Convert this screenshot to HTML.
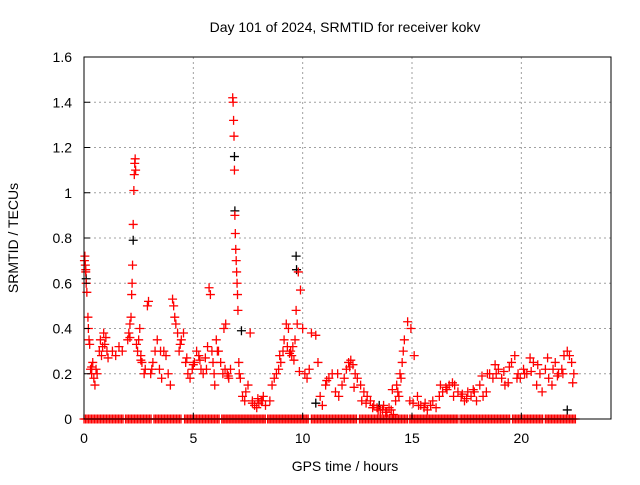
<!DOCTYPE html>
<html><head><meta charset="utf-8"><style>
body{margin:0;background:#fff;}
svg text{font-family:"Liberation Sans",sans-serif;font-size:14px;fill:#000;}
</style></head><body>
<svg id="chart" width="640" height="480" xmlns="http://www.w3.org/2000/svg">
<rect width="640" height="480" fill="#fff"/>
<g id="grid"></g>
<g id="marks"></g>
<rect x="84" y="57" width="527" height="362" fill="none" stroke="#000" stroke-width="1"/>
<g id="axes"></g>
<text x="345" y="32" text-anchor="middle">Day 101 of 2024, SRMTID for receiver kokv</text>
<text x="345" y="471" text-anchor="middle">GPS time / hours</text>
<text x="18" y="238" text-anchor="middle" transform="rotate(-90 18 238)">SRMTID / TECUs</text>
</svg>
<script>
const xTicks=[0,5,10,15,20];
const yTicks=[0,0.2,0.4,0.6,0.8,1,1.2,1.4,1.6];
const yTickLabels=["0","0.2","0.4","0.6","0.8","1","1.2","1.4","1.6"];
const times=[0.02,0.04,0.06,0.08,0.1,0.13,0.18,0.2,0.23,0.26,0.3,0.35,0.4,0.45,0.5,0.55,0.7,0.75,0.8,0.85,0.9,1.0,1.05,1.1,1.3,1.45,1.6,1.75,2.0,2.05,2.1,2.15,2.18,2.2,2.22,2.25,2.28,2.3,2.32,2.34,2.36,2.45,2.5,2.55,2.6,2.65,2.75,2.8,2.9,2.95,3.05,3.15,3.25,3.35,3.45,3.55,3.65,3.75,3.85,3.95,4.05,4.1,4.15,4.2,4.28,4.35,4.45,4.55,4.65,4.75,4.85,4.95,5.05,5.15,5.25,5.35,5.45,5.55,5.65,5.72,5.78,5.85,5.9,5.95,5.98,6.05,6.15,6.25,6.35,6.4,6.48,6.55,6.62,6.7,6.8,6.82,6.84,6.86,6.88,6.9,6.92,6.94,6.96,6.98,7.0,7.02,7.04,7.08,7.15,7.25,7.35,7.4,7.5,7.6,7.7,7.8,7.9,8.0,8.1,8.2,8.3,8.5,8.6,8.7,8.8,8.9,9.0,9.1,9.15,9.25,9.35,9.45,9.5,9.55,9.6,9.65,9.7,9.75,9.8,9.9,10.0,10.1,10.2,10.3,10.4,10.6,10.7,10.8,10.9,11.05,11.2,11.35,11.5,11.65,11.8,11.9,12.0,12.1,12.2,12.3,12.4,12.5,12.65,12.8,12.95,13.1,13.25,13.4,13.55,13.7,13.85,13.95,14.05,14.15,14.25,14.3,14.35,14.4,14.45,14.5,14.55,14.6,14.65,14.8,14.95,15.1,15.25,15.4,15.55,15.7,15.85,15.95,16.1,16.25,16.4,16.55,16.7,16.85,16.95,17.1,17.25,17.4,17.55,17.7,17.85,17.95,18.1,18.25,18.4,18.55,18.7,18.85,18.95,19.1,19.25,19.4,19.55,19.7,19.85,19.95,20.1,20.25,20.4,20.55,20.7,20.85,20.95,21.1,21.25,21.4,21.55,21.7,21.85,21.95,22.1,22.2,22.3,22.4];
const values=[0.70,0.72,0.68,0.65,0.60,0.56,0.45,0.40,0.35,0.33,0.22,0.20,0.25,0.18,0.15,0.22,0.30,0.35,0.28,0.32,0.38,0.36,0.30,0.27,0.30,0.28,0.32,0.30,0.35,0.38,0.42,0.45,0.55,0.60,0.68,0.86,1.01,1.08,1.13,1.15,1.10,0.30,0.35,0.40,0.28,0.25,0.20,0.22,0.50,0.52,0.20,0.25,0.30,0.35,0.22,0.18,0.30,0.28,0.20,0.15,0.53,0.50,0.45,0.42,0.38,0.30,0.35,0.38,0.25,0.20,0.18,0.22,0.25,0.30,0.28,0.22,0.20,0.27,0.32,0.58,0.55,0.30,0.25,0.20,0.15,0.35,0.30,0.25,0.20,0.40,0.42,0.20,0.18,0.22,1.42,1.40,1.32,1.25,1.10,0.90,0.82,0.75,0.70,0.65,0.60,0.55,0.48,0.25,0.18,0.10,0.08,0.12,0.15,0.38,0.08,0.06,0.05,0.07,0.08,0.10,0.06,0.08,0.15,0.18,0.20,0.22,0.25,0.30,0.35,0.42,0.40,0.30,0.28,0.32,0.26,0.35,0.48,0.42,0.65,0.57,0.40,0.20,0.18,0.22,0.38,0.37,0.25,0.10,0.06,0.15,0.18,0.20,0.12,0.10,0.15,0.18,0.22,0.25,0.26,0.24,0.20,0.18,0.15,0.12,0.10,0.08,0.06,0.05,0.04,0.06,0.03,0.05,0.04,0.02,0.08,0.15,0.12,0.10,0.20,0.18,0.25,0.30,0.35,0.43,0.40,0.28,0.10,0.06,0.05,0.04,0.06,0.08,0.05,0.10,0.12,0.14,0.15,0.16,0.15,0.12,0.10,0.08,0.12,0.10,0.12,0.08,0.15,0.10,0.12,0.20,0.18,0.20,0.22,0.18,0.15,0.16,0.25,0.28,0.20,0.18,0.22,0.20,0.27,0.25,0.15,0.20,0.12,0.22,0.18,0.15,0.25,0.20,0.22,0.28,0.30,0.28,0.25,0.20,0.18,0.22,0.10,0.18,0.15,0.12,0.18];
const extraTimes=[0.08,0.35,0.6,0.95,2.1,2.4,2.6,3.1,3.5,4.4,4.7,5.0,5.3,5.6,6.1,6.45,6.6,7.1,7.7,7.95,8.15,8.95,9.3,9.4,9.85,11.1,11.6,12.15,12.35,12.7,12.9,13.2,13.45,13.65,13.8,14.1,14.9,15.05,15.3,15.6,16.3,16.6,16.9,17.3,17.5,17.8,18.2,18.45,18.8,19.2,19.45,19.8,20.15,20.45,20.75,21.2,21.45,21.65,21.9,22.35];
const extraValues=[0.66,0.23,0.2,0.33,0.36,0.33,0.26,0.22,0.3,0.33,0.27,0.24,0.26,0.22,0.3,0.22,0.19,0.2,0.07,0.09,0.08,0.28,0.32,0.29,0.21,0.17,0.2,0.23,0.14,0.08,0.07,0.05,0.04,0.04,0.03,0.13,0.08,0.07,0.06,0.07,0.15,0.13,0.1,0.11,0.09,0.13,0.19,0.2,0.24,0.21,0.23,0.18,0.2,0.21,0.24,0.27,0.22,0.19,0.2,0.16];
const blackTimes=[0.1,2.25,6.88,6.9,9.7,9.72,7.2,10.6,13.5,22.1];
const blackValues=[0.62,0.79,1.16,0.92,0.72,0.66,0.39,0.07,0.06,0.04];
const zeroRunStarts=[0.0,1.9,3.2,4.6,6.3,8.4,10.4,12.6,14.9,17.2,19.6,21.1];
const zeroRunEnds=[1.8,3.1,4.5,6.2,8.3,10.3,12.5,14.8,17.1,19.5,21.0,22.5];
const X0=84,X1=611,Y0=419,Y1=57,XMAX=24.1,YMAX=1.6;
const sx=v=>X0+v/XMAX*(X1-X0);
const sy=v=>Y0-v/YMAX*(Y0-Y1);
const NS="http://www.w3.org/2000/svg";
const grid=document.getElementById('grid'),axes=document.getElementById('axes'),marks=document.getElementById('marks');
function mk(tag,attrs,parent){const e=document.createElementNS(NS,tag);for(const k in attrs)e.setAttribute(k,attrs[k]);parent.appendChild(e);return e;}
xTicks.forEach(t=>{
 const x=sx(t);
 if(t>0){const g=mk('line',{x1:x,x2:x,y1:Y1,y2:Y0,stroke:'#a0a0a0','stroke-dasharray':'2,3'},grid);
 
 }
 const tk=mk('line',{x1:x,x2:x,y1:Y0,y2:Y0-6,stroke:'#000'},axes);
 
 
 const lb=mk('text',{x:x,y:Y0+24,'text-anchor':'middle'},axes);lb.textContent=t;
 
 
});
yTicks.forEach((t,i)=>{
 const y=sy(t);
 if(t>0&&t<1.6){const g=mk('line',{x1:X0,x2:X1,y1:y,y2:y,stroke:'#a0a0a0','stroke-dasharray':'2,3'},grid);
 
 }
 const tk=mk('line',{x1:X0,x2:X0+6,y1:y,y2:y,stroke:'#000'},axes);
 
 
 const lb=mk('text',{x:X0-12,y:y+5,'text-anchor':'end'},axes);lb.textContent=yTickLabels[i];
 
 
});
function plus(x,y,color,name){
 const p=mk('path',{d:`M${x-4.5},${y}h9M${x},${y-4.5}v9`,stroke:color,'stroke-width':1.3,fill:'none'},marks);
 
 
}
zeroRunStarts.forEach((s,i)=>{
 for(let px=sx(s);px<=sx(zeroRunEnds[i]);px+=1.5)plus(px,sy(0),'#ff0000','zero-point');
});
blackTimes.forEach((t,i)=>plus(sx(t),sy(blackValues[i]),'#000000','black-point'));
extraTimes.forEach((t,i)=>plus(sx(t),sy(extraValues[i]),'#ff0000','srmtid-point'));
times.forEach((t,i)=>{
 plus(sx(t),sy(values[i]),'#ff0000','srmtid-point');
});
</script>
</body></html>
